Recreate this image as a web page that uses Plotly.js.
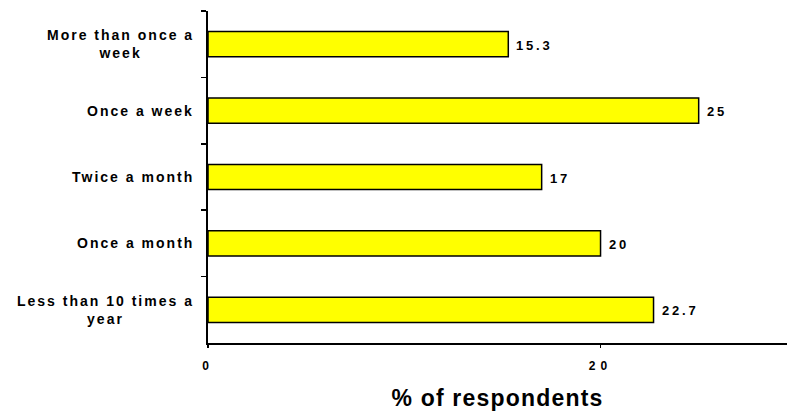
<!DOCTYPE html>
<html>
<head>
<meta charset="utf-8">
<script src="https://cdn.plot.ly/plotly-3.0.1.min.js"></script>
<style>
  html, body { margin: 0; padding: 0; background: #fff; }
  text.annotation-text { letter-spacing: 2px; }
  .vlabel text.annotation-text { letter-spacing: 2.8px; }
  text.xtitle { letter-spacing: 1.2px; }
  .xtick text { letter-spacing: 5px; }
</style>
</head>
<body>
<div id="chart" style="width:787px;height:417px;"></div>
<script>
var categories = [
  "More than once a<br>week",
  "Once a week",
  "Twice a month",
  "Once a month",
  "Less than 10 times a<br>year"
];
var values = [15.3, 25, 17, 20, 22.7];
var valueLabels = ["15.3", "25", "17", "20", "22.7"];
var xTickVals = [0, 20];
var xTitle = "% of respondents";

var FONT = "Liberation Sans, Arial, sans-serif";

var trace = {
  type: "bar",
  orientation: "h",
  y: categories,
  x: values,
  marker: { color: "#FFFF00", line: { color: "#000", width: 1.5 } },
  hoverinfo: "none"
};

var catAnnotations = categories.map(function (c) {
  return {
    xref: "paper", x: 0, xanchor: "right", xshift: -12,
    yref: "y", y: c, yanchor: "middle",
    text: c, showarrow: false, align: "center",
    font: { family: FONT, size: 14, color: "#000", weight: "bold" }
  };
});

var valAnnotations = values.map(function (v, i) {
  return {
    xref: "x", x: v, xanchor: "left", xshift: 6,
    yref: "y", y: categories[i], yanchor: "middle", yshift: -1,
    text: valueLabels[i], showarrow: false, align: "left",
    font: { family: FONT, size: 13, color: "#000", weight: "bold" }
  };
});

var layout = {
  width: 787, height: 417,
  margin: { l: 208, r: 0, t: 11, b: 74, pad: 0 },
  paper_bgcolor: "#fff", plot_bgcolor: "#fff",
  showlegend: false,
  bargap: 0.62,
  xaxis: {
    range: [0, 29.5],
    tickvals: xTickVals,
    ticktext: xTickVals.map(String),
    ticks: "outside", ticklen: 3, tickwidth: 1.5, tickcolor: "#000",
    ticklabelstandoff: 8,
    showline: true, linecolor: "#000", linewidth: 2,
    showgrid: false, zeroline: false,
    tickfont: { family: FONT, size: 12, color: "#000", weight: "bold" },
    title: { text: xTitle, standoff: 17, font: { family: FONT, size: 23, color: "#000", weight: "bold" } },
    fixedrange: true
  },
  yaxis: {
    type: "category",
    autorange: "reversed",
    tickson: "boundaries",
    ticks: "outside", ticklen: 5, tickwidth: 1.5, tickcolor: "#000",
    showticklabels: false,
    showline: true, linecolor: "#000", linewidth: 2,
    showgrid: false, zeroline: false,
    fixedrange: true
  },
  annotations: catAnnotations.concat(valAnnotations)
};

Plotly.newPlot("chart", [trace], layout, { displayModeBar: false, staticPlot: true }).then(function (gd) {
  var groups = gd.querySelectorAll(".annotation");
  for (var i = catAnnotations.length; i < groups.length; i++) {
    groups[i].classList.add("vlabel");
  }
});
</script>
</body>
</html>
